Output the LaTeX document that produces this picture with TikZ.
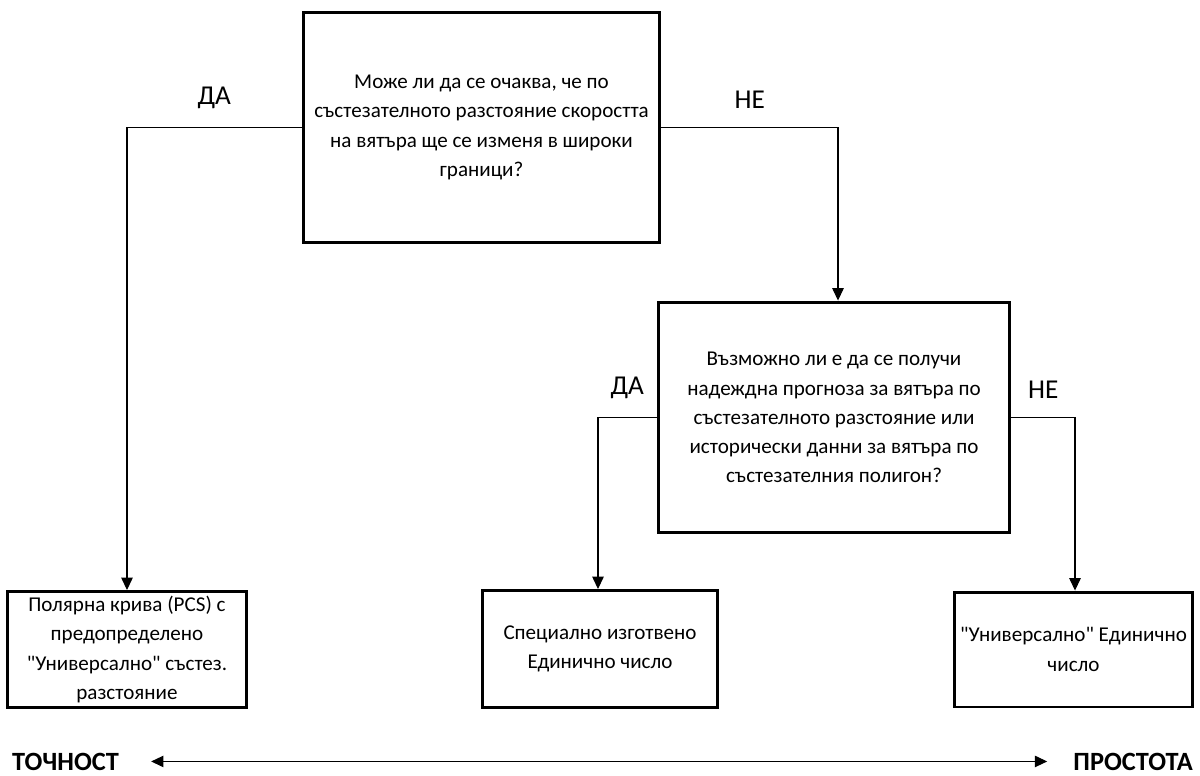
\documentclass[tikz,border=0pt]{standalone}
\usepackage{fontspec}
\setmainfont{Carlito}
\usepackage{xcolor}
\definecolor{ink}{RGB}{0,0,0}
\usepackage{tikz}
\usetikzlibrary{arrows.meta,positioning}
\tikzset{
  %% Boxes: questions and outcomes
  qbox/.style={draw=ink, line width=1.7pt, align=center, inner sep=3pt,
               text=ink, font=\fontsize{12}{16.6}\selectfont},
  %% Connectors with filled heads
  link/.style={draw=ink, line width=0.6pt,
               -{Triangle[length=7pt,width=6.5pt]}},
  answer/.style={font=\fontsize{15.5}{19}\selectfont, text=ink, above=7pt},
  pole/.style={font=\fontsize{15}{18}\selectfont\bfseries, text=ink, inner sep=0.5pt},
}

\begin{document}
\begin{tikzpicture}[x=0.02cm,y=-0.02cm]
\useasboundingbox (0,0) rectangle (1200,775);

\node[qbox,minimum width=7.14cm,minimum height=4.62cm] (windq) at (481.5,127.5)
  {Може ли да се очаква, че по\\ състезателното разстояние скоростта\\
   на вятъра ще се изменя в широки\\ граници?};
\node[qbox,minimum width=7.04cm,minimum height=4.62cm] (fcstq) at (834,417.5)
  {Възможно ли е да се получи\\ надеждна прогноза за вятъра по\\
   състезателното разстояние или\\ исторически данни за вятъра по\\
   състезателния полигон?};

\node[qbox,minimum width=4.8cm,minimum height=2.32cm,inner sep=2pt] (pcs) at (127,649.5)
  {Полярна крива (PCS) с\\ предопределено\\ \textquotedbl Универсално\textquotedbl{} състез.\\ разстояние};
\node[qbox,minimum width=4.72cm,minimum height=2.34cm] (custom) at (600,649)
  {Специално изготвено\\ Единично число};
\node[qbox,minimum width=4.74cm,minimum height=2.3cm] (univ) at (1073.5,649.5)
  {\textquotedbl Универсално\textquotedbl{} Единично\\ число};

\draw[link] (windq.west) -| (pcs.north) node[answer,pos=0.25]{ДА};
\draw[link] (windq.east) -| ([xshift=0.08cm]fcstq.north) node[answer,pos=0.25]{НЕ};
\draw[link] (fcstq.west) -| ([xshift=-0.04cm]custom.north) node[answer,pos=0.25]{ДА};
\draw[link] (fcstq.east) -| ([xshift=0.03cm]univ.north) node[answer,pos=0.25]{НЕ};

%% accuracy vs simplicity
\node[pole,anchor=base west] (acc) at (11,770) {ТОЧНОСТ};
\node[pole,anchor=base east] (simp) at (1194,770) {ПРОСТОТА};
\draw[link,{Triangle[length=7pt,width=6.5pt]}-{Triangle[length=7pt,width=6.5pt]},
      shorten <=0.62cm, shorten >=0.5cm] (acc.east) -- (simp.west);
\end{tikzpicture}
\end{document}
